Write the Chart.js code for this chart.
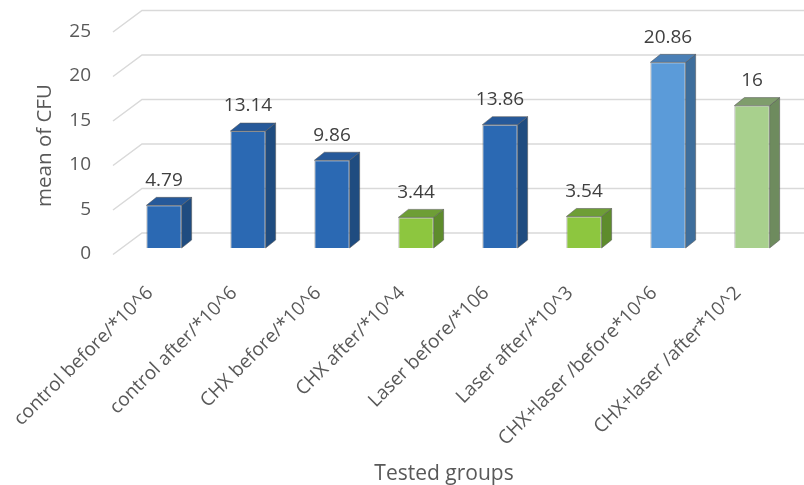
<!DOCTYPE html>
<html>
<head>
<meta charset="utf-8">
<script src="https://cdn.jsdelivr.net/npm/chart.js@4.4.1/dist/chart.umd.min.js"></script>
<style>
  html, body { margin: 0; padding: 0; background: #fff; }
  #wrap { width: 804px; height: 485px; }
</style>
</head>
<body>
<div id="wrap"><canvas id="cfu"></canvas></div>
<script>
const groups      = ['control before/*10^6', 'control after/*10^6', 'CHX before/*10^6', 'CHX after/*10^4',
                     'Laser before/*106', 'Laser after/*10^3', 'CHX+laser /before*10^6', 'CHX+laser /after*10^2']
const meanCFU     = [4.79, 13.14, 9.86, 3.44, 13.86, 3.54, 20.86, 16]
const valueLabels = ['4.79', '13.14', '9.86', '3.44', '13.86', '3.54', '20.86', '16']
const yMax = 25, yStep = 5
const yTitle = 'mean of CFU'
const xTitle = 'Tested groups'

// face colours of each 3D bar
const frontColors = ['#2b69b3', '#2b69b3', '#2b69b3', '#8dc63f', '#2b69b3', '#8dc63f', '#5b9bd9', '#a8d08d']
const sideColors  = ['#1f4c80', '#1f4c80', '#1f4c80', '#5e8c2c', '#1f4c80', '#5e8c2c', '#3e6e9c', '#6e8b5e']
const topColors   = ['#26599a', '#26599a', '#26599a', '#6e9e36', '#26599a', '#6e9e36', '#4a7fb6', '#7f9d6c']

const FONT = 'Open Sans'
const TXT  = '#595959'
const DX = 10, DY = 8

const bar3d = {
  id: 'bar3d',
  beforeDatasetsDraw(chart) {
    const { ctx, chartArea, scales: { y } } = chart
    ctx.save()
    ctx.strokeStyle = '#d9d9d9'
    ctx.lineWidth = 1.5
    y.ticks.forEach(t => {
      const py = y.getPixelForValue(t.value)
      ctx.beginPath()
      ctx.moveTo(chartArea.left - 9, py + 6.5)
      ctx.lineTo(chartArea.left + 20, py - 15)
      ctx.lineTo(chart.width, py - 15)
      ctx.stroke()
    })
    ctx.restore()
  },
  afterDatasetsDraw(chart) {
    const { ctx } = chart
    const meta = chart.getDatasetMeta(0)
    ctx.save()
    ctx.lineWidth = 1
    ctx.strokeStyle = 'rgba(90,90,90,.55)'
    ctx.lineJoin = 'round'
    meta.data.forEach((bar, i) => {
      const { x, y, base, width } = bar.getProps(['x', 'y', 'base', 'width'], true)
      const l = x - width / 2, r = x + width / 2
      // side face
      ctx.beginPath()
      ctx.moveTo(r, y); ctx.lineTo(r + DX, y - DY); ctx.lineTo(r + DX, base - DY); ctx.lineTo(r, base); ctx.closePath()
      ctx.fillStyle = sideColors[i]; ctx.fill(); ctx.stroke()
      // top face
      ctx.beginPath()
      ctx.moveTo(l, y); ctx.lineTo(l + DX, y - DY); ctx.lineTo(r + DX, y - DY); ctx.lineTo(r, y); ctx.closePath()
      ctx.fillStyle = topColors[i]; ctx.fill(); ctx.stroke()
      // value label
      ctx.fillStyle = '#404040'
      ctx.font = `19px "${FONT}"`
      ctx.textAlign = 'center'
      ctx.textBaseline = 'middle'
      ctx.fillText(valueLabels[i], x, y - DY - 17)
    })
    ctx.restore()
  },
  afterDraw(chart) {
    const { ctx, chartArea } = chart
    ctx.save()
    ctx.fillStyle = TXT
    ctx.textAlign = 'center'
    ctx.textBaseline = 'middle'
    ctx.font = `21px "${FONT}"`
    ctx.fillText(xTitle, (chartArea.left + chartArea.right) / 2 - 14, 474)
    ctx.font = `20.5px "${FONT}"`
    ctx.translate(45, chartArea.top + 120)
    ctx.rotate(-Math.PI / 2)
    ctx.fillText(yTitle, 0, 0)
    ctx.restore()
  }
}

new Chart(document.getElementById('cfu'), {
  type: 'bar',
  data: {
    labels: groups,
    datasets: [{
      label: yTitle,
      data: meanCFU,
      backgroundColor: frontColors,
      borderColor: 'rgba(90,90,90,.55)',
      borderWidth: 1,
      barPercentage: 0.42,
      categoryPercentage: 1,
    }],
  },
  options: {
    responsive: true, maintainAspectRatio: false,
    animation: false,
    layout: { padding: { top: 25.5, right: 10, left: 0, bottom: 0 } },
    plugins: { legend: { display: false }, tooltip: { enabled: false } },
    scales: {
      y: {
        min: 0, max: yMax,
        afterFit(scale) { scale.width = 122; scale.paddingTop = 0; scale.paddingBottom = 0 },
        grid: { display: false, drawTicks: false },
        border: { display: false },
        ticks: { stepSize: yStep, padding: 31, labelOffset: 6, color: TXT, font: { family: FONT, size: 19 } },
      },
      x: {
        afterFit(scale) { scale.height = 237; scale.paddingLeft = 0; scale.paddingRight = 0 },
        grid: { display: false, drawTicks: false },
        border: { display: false },
        ticks: { autoSkip: false, minRotation: 45, maxRotation: 45, padding: 34, labelOffset: -14, color: TXT, font: { family: FONT, size: 19 } },
      },
    },
  },
  plugins: [bar3d],
})
</script>
</body>
</html>
